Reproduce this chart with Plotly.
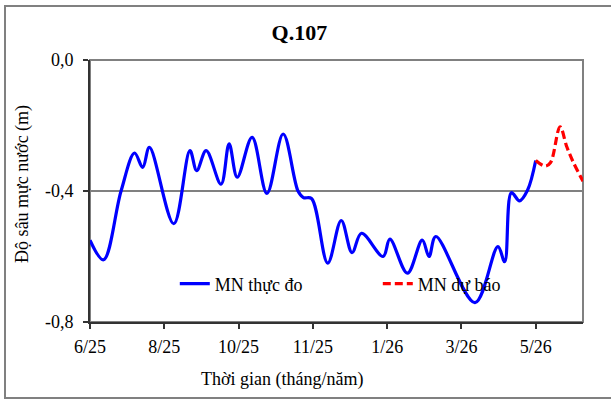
import plotly.graph_objects as go

# ---- data (days from start of window, water depth in m) ----
obs_days = [0, 10, 23, 33, 39, 44, 62, 74, 79, 86, 97, 103, 109, 120, 131, 143,
            154, 158, 164, 176, 186, 194, 201, 217, 222, 235, 246, 251, 256, 285,
            302, 307, 312, 318, 324, 330]
obs_vals = [-0.55, -0.61, -0.40, -0.284, -0.328, -0.267, -0.50, -0.277, -0.338,
            -0.277, -0.379, -0.256, -0.358, -0.236, -0.407, -0.226,
            -0.40, -0.42, -0.423, -0.62, -0.49, -0.588, -0.529, -0.60, -0.547,
            -0.651, -0.55, -0.60, -0.539, -0.741, -0.57, -0.616, -0.405, -0.43,
            -0.397, -0.307]

fc_days = [330, 337, 341, 348, 353, 358, 365]
fc_vals = [-0.307, -0.324, -0.313, -0.204, -0.265, -0.314, -0.37]

tick_days = [0, 55, 110, 165, 220, 275, 330]
tick_labels = ["6/25", "8/25", "10/25", "11/25", "1/26", "3/26", "5/26"]

y_ticks = [0.0, -0.4, -0.8]
y_labels = ["0,0", "-0,4", "-0,8"]

FONT = "Liberation Serif"
FS = 18

fig = go.Figure()
fig.add_trace(go.Scatter(
    x=obs_days, y=obs_vals, mode="lines", name="MN thực đo",
    line=dict(color="#0000FF", width=3.2, shape="spline", smoothing=1.0),
))
fig.add_trace(go.Scatter(
    x=fc_days, y=fc_vals, mode="lines", name="MN dự báo",
    line=dict(color="#FF0000", width=3.2, dash="8px,4px", shape="spline", smoothing=1.0),
))

fig.update_layout(
    width=611, height=401,
    margin=dict(l=90, r=28, t=60, b=79),
    paper_bgcolor="white", plot_bgcolor="white",
    font=dict(family=FONT, size=FS, color="black"),
    title=dict(text="<b>Q.107</b>", x=0.49, xref="container", xanchor="center",
               y=0.92, yref="container", yanchor="middle",
               font=dict(family=FONT, size=22, color="black")),
    showlegend=True,
    legend=dict(orientation="h", x=0.172, xanchor="left", y=0.145, yanchor="middle",
                bgcolor="rgba(0,0,0,0)", font=dict(family=FONT, size=FS),
                entrywidth=158, entrywidthmode="pixels", traceorder="normal"),
    xaxis=dict(range=[0, 365], tickvals=tick_days, ticktext=tick_labels,
               showgrid=False, zeroline=False, showline=True, linecolor="#333333",
               linewidth=2, ticks="outside", ticklen=5, tickcolor="#333333",
               tickwidth=1.5, ticklabelstandoff=2,
               tickfont=dict(family=FONT, size=FS)),
    yaxis=dict(range=[-0.8, 0.0], tickvals=y_ticks, ticktext=y_labels,
               showgrid=True, gridcolor="#808080", gridwidth=1.5, zeroline=False,
               showline=True, linecolor="#333333", linewidth=2, ticks="outside",
               ticklen=5, tickcolor="#333333", tickwidth=1.5, ticklabelstandoff=6,
               tickfont=dict(family=FONT, size=FS)),
    shapes=[
        dict(type="rect", xref="paper", yref="paper", x0=0, x1=1, y0=0, y1=1,
             line=dict(color="#808080", width=2), layer="below"),
        dict(type="rect", xref="paper", yref="paper", x0=-0.1724, x1=1.12,
             y0=-0.290, y1=1.206, line=dict(color="#808080", width=2), layer="below"),
    ],
    annotations=[
        dict(text="Thời gian (tháng/năm)", xref="paper", yref="paper", x=0.389,
             y=-0.2176, xanchor="center", yanchor="middle", showarrow=False,
             font=dict(family=FONT, size=FS)),
        dict(text="Độ sâu mực nước (m)", xref="paper", yref="paper", x=-0.136,
             y=0.527, xanchor="center", yanchor="middle", textangle=-90,
             showarrow=False, font=dict(family=FONT, size=FS)),
    ],
)

fig.write_html("out.html")
